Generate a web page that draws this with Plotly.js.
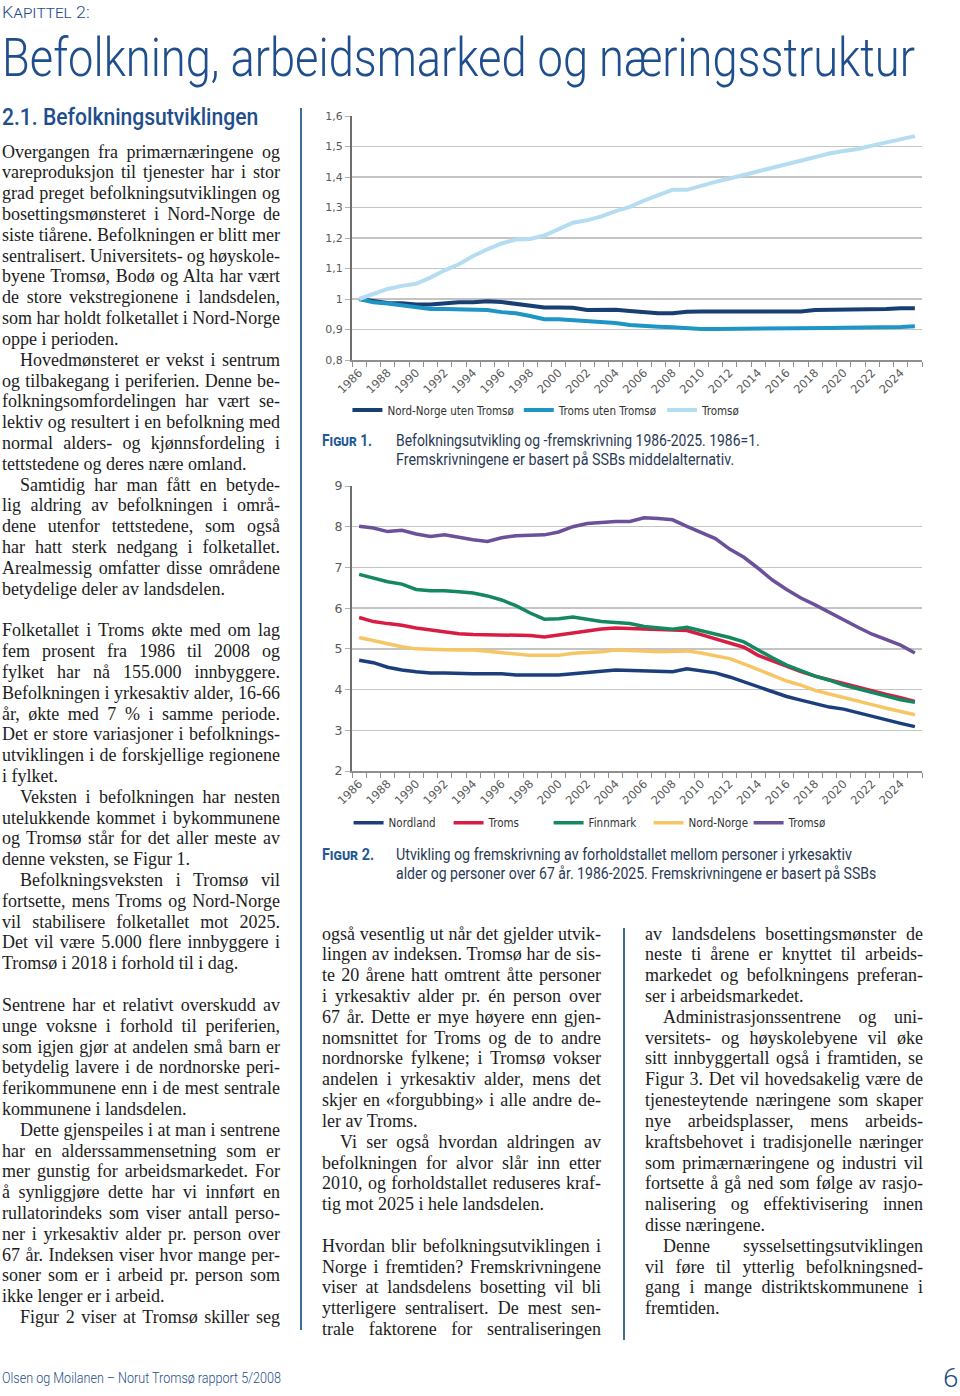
<!DOCTYPE html>
<html lang="no">
<head>
<meta charset="utf-8">
<script src="https://cdn.plot.ly/plotly-3.0.1.min.js"></script>
<style>
  html,body{margin:0;padding:0;background:#fff;}
  body{width:960px;height:1396px;position:relative;overflow:hidden;}
  .abs{position:absolute;white-space:nowrap;}
  .fit{display:inline-block;transform-origin:0 50%;}
  .blue{color:#1f4e8c;}
  .sans{font-family:"Roboto","Open Sans","DejaVu Sans",sans-serif;}
  .col{position:absolute;font-family:"Liberation Serif","DejaVu Serif",serif;font-size:18px;line-height:20.82px;color:#1c1c1c;}
  .ln{height:20.82px;white-space:nowrap;}
  .ln span{white-space:pre;}
  .rule{position:absolute;width:1.5px;background:#3f6f8f;}
  .cap{font-family:"Roboto","Open Sans",sans-serif;font-size:16px;color:#2a3a55;}
  .figlab{font-family:"Roboto","Open Sans",sans-serif;font-variant:small-caps;font-weight:700;font-size:16px;color:#1f5a96;}
</style>
</head>
<body>
<script>
// ---------------- DATA ----------------
const years = [1986,1987,1988,1989,1990,1991,1992,1993,1994,1995,1996,1997,1998,1999,2000,2001,2002,2003,2004,2005,
               2006,2007,2008,2009,2010,2011,2012,2013,2014,2015,2016,2017,2018,2019,2020,2021,2022,2023,2024,2025];
const tickYears  = [1986,1988,1990,1992,1994,1996,1998,2000,2002,2004,2006,2008,2010,2012,2014,2016,2018,2020,2022,2024];
const tickLabels = ['1986','1988','1990','1992','1994','1996','1998','2000','2002','2004','2006','2008','2010','2012','2014','2016','2018','2020','2022','2024'];

// Figur 1: index 1986 = 1
const fig1Names = ['Nord-Norge uten Tromsø','Troms uten Tromsø','Tromsø'];
const nordNorgeUtenTromso = [1.000,0.992,0.987,0.986,0.982,0.982,0.986,0.989,0.989,0.993,0.990,0.983,0.978,0.972,0.972,0.971,0.964,0.964,0.965,0.961,
                             0.957,0.953,0.953,0.958,0.959,0.959,0.959,0.959,0.959,0.959,0.959,0.959,0.964,0.964,0.964,0.966,0.966,0.967,0.970,0.970];
const tromsUtenTromso     = [1.000,0.989,0.985,0.980,0.975,0.967,0.967,0.967,0.964,0.964,0.957,0.953,0.944,0.934,0.934,0.931,0.927,0.926,0.921,0.915,
                             0.911,0.909,0.907,0.903,0.902,0.902,0.902,0.902,0.902,0.902,0.902,0.902,0.904,0.905,0.906,0.906,0.906,0.907,0.908,0.911];
const tromso1             = [1.000,1.016,1.033,1.043,1.050,1.070,1.094,1.114,1.141,1.163,1.182,1.195,1.197,1.208,1.230,1.250,1.258,1.271,1.288,1.302,
                             1.323,1.342,1.358,1.358,1.372,1.384,1.395,1.407,1.419,1.430,1.441,1.455,1.466,1.477,1.485,1.492,1.503,1.514,1.523,1.534];

// Figur 2: personer i yrkesaktiv alder pr. person over 67 år
const fig2Names = ['Nordland','Troms','Finnmark','Nord-Norge','Tromsø'];
const nordland  = [4.72,4.66,4.55,4.48,4.44,4.41,4.41,4.39,4.39,4.39,4.39,4.36,4.36,4.36,4.36,4.39,4.41,4.45,4.48,4.47,
                   4.44,4.44,4.44,4.51,4.46,4.41,4.31,4.19,4.07,3.95,3.83,3.74,3.65,3.57,3.52,3.43,3.33,3.25,3.17,3.09];
const troms     = [5.77,5.67,5.62,5.58,5.51,5.46,5.43,5.37,5.35,5.35,5.35,5.35,5.33,5.29,5.34,5.41,5.46,5.49,5.51,5.50,
                   5.47,5.47,5.46,5.45,5.35,5.24,5.15,5.04,4.84,4.70,4.56,4.44,4.33,4.24,4.13,4.04,3.95,3.88,3.80,3.71];
const finnmark  = [6.83,6.73,6.65,6.59,6.46,6.43,6.43,6.40,6.37,6.30,6.20,6.06,5.88,5.73,5.74,5.78,5.72,5.67,5.65,5.62,
                   5.55,5.51,5.48,5.53,5.45,5.37,5.28,5.17,4.97,4.78,4.60,4.46,4.33,4.23,4.11,4.02,3.92,3.84,3.75,3.69];
const nordNorge = [5.28,5.20,5.11,5.05,5.00,4.98,4.98,4.97,4.97,4.94,4.90,4.87,4.84,4.84,4.84,4.89,4.90,4.93,4.97,4.97,
                   4.95,4.93,4.93,4.95,4.90,4.84,4.76,4.63,4.49,4.37,4.21,4.11,3.98,3.89,3.81,3.72,3.63,3.54,3.45,3.38];
const tromso2   = [8.01,7.97,7.88,7.91,7.82,7.76,7.80,7.73,7.68,7.64,7.73,7.78,7.80,7.80,7.87,8.00,8.08,8.11,8.13,8.13,
                   8.22,8.20,8.17,8.01,7.86,7.71,7.45,7.25,6.98,6.69,6.46,6.25,6.08,5.89,5.71,5.53,5.36,5.22,5.09,4.90];

// Text (~ = indent, $ = last line of paragraph, '' = blank line)
const leftLines = [
 'Overgangen fra primærnæringene og','vareproduksjon til tjenester har i stor','grad preget befolkningsutviklingen og',
 'bosettingsmønsteret i Nord-Norge de','siste tiårene. Befolkningen er blitt mer','sentralisert. Universitets- og høyskole-',
 'byene Tromsø, Bodø og Alta har vært','de store vekstregionene i landsdelen,','som har holdt folketallet i Nord-Norge','oppe i perioden.$',
 '~Hovedmønsteret er vekst i sentrum','og tilbakegang i periferien. Denne be-','folkningsomfordelingen har vært se-',
 'lektiv og resultert i en befolkning med','normal alders- og kjønnsfordeling i','tettstedene og deres nære omland.$',
 '~Samtidig har man fått en betyde-','lig aldring av befolkningen i områ-','dene utenfor tettstedene, som også',
 'har hatt sterk nedgang i folketallet.','Arealmessig omfatter disse områdene','betydelige deler av landsdelen.$',
 '',
 'Folketallet i Troms økte med om lag','fem prosent fra 1986 til 2008 og','fylket har nå 155.000 innbyggere.',
 'Befolkningen i yrkesaktiv alder, 16-66','år, økte med 7 % i samme periode.','Det er store variasjoner i befolknings-',
 'utviklingen i de forskjellige regionene','i fylket.$',
 '~Veksten i befolkningen har nesten','utelukkende kommet i bykommunene','og Tromsø står for det aller meste av','denne veksten, se Figur 1.$',
 '~Befolkningsveksten i Tromsø vil','fortsette, mens Troms og Nord-Norge','vil stabilisere folketallet mot 2025.',
 'Det vil være 5.000 flere innbyggere i','Tromsø i 2018 i forhold til i dag.$',
 '',
 'Sentrene har et relativt overskudd av','unge voksne i forhold til periferien,','som igjen gjør at andelen små barn er',
 'betydelig lavere i de nordnorske peri-','ferikommunene enn i de mest sentrale','kommunene i landsdelen.$',
 '~Dette gjenspeiles i at man i sentrene','har en alderssammensetning som er','mer gunstig for arbeidsmarkedet. For',
 'å synliggjøre dette har vi innført en','rullatorindeks som viser antall perso-','ner i yrkesaktiv alder pr. person over',
 '67 år. Indeksen viser hvor mange per-','soner som er i arbeid pr. person som','ikke lenger er i arbeid.$',
 '~Figur 2 viser at Tromsø skiller seg'
];
const midLines = [
 'også vesentlig ut når det gjelder utvik-','lingen av indeksen. Tromsø har de sis-','te 20 årene hatt omtrent åtte personer',
 'i yrkesaktiv alder pr. én person over','67 år. Dette er mye høyere enn gjen-','nomsnittet for Troms og de to andre',
 'nordnorske fylkene; i Tromsø vokser','andelen i yrkesaktiv alder, mens det','skjer en «forgubbing» i alle andre de-','ler av Troms.$',
 '~Vi ser også hvordan aldringen av','befolkningen for alvor slår inn etter','2010, og forholdstallet reduseres kraf-','tig mot 2025 i hele landsdelen.$',
 '',
 'Hvordan blir befolkningsutviklingen i','Norge i fremtiden? Fremskrivningene','viser at landsdelens bosetting vil bli',
 'ytterligere sentralisert. De mest sen-','trale faktorene for sentraliseringen'
];
const rightLines = [
 'av landsdelens bosettingsmønster de','neste ti årene er knyttet til arbeids-','markedet og befolkningens preferan-','ser i arbeidsmarkedet.$',
 '~Administrasjonssentrene og uni-','versitets- og høyskolebyene vil øke','sitt innbyggertall også i framtiden, se',
 'Figur 3. Det vil hovedsakelig være de','tjenesteytende næringene som skaper','nye arbeidsplasser, mens arbeids-',
 'kraftsbehovet i tradisjonelle næringer','som primærnæringene og industri vil','fortsette å gå ned som følge av rasjo-',
 'nalisering og effektivisering innen','disse næringene.$',
 '~Denne sysselsettingsutviklingen','vil føre til ytterlig befolkningsned-','gang i mange distriktskommunene i','fremtiden.$'
];
</script>

<!-- page furniture -->
<div class="abs blue sans" style="left:2px;top:2px;font-size:17px;font-variant:small-caps;font-weight:300;line-height:20px;"><span class="fit" data-w="88">Kapittel 2:</span></div>
<div class="abs blue sans" style="left:2px;top:28px;font-size:54px;font-weight:300;line-height:60px;"><span class="fit" data-w="913">Befolkning, arbeidsmarked og næringsstruktur</span></div>
<div class="abs blue sans" style="left:2px;top:104px;font-size:23px;font-weight:500;line-height:28px;"><span class="fit" data-w="256">2.1. Befolkningsutviklingen</span></div>

<div class="rule" style="left:300px;top:108px;height:1222px;"></div>
<div class="rule" style="left:623px;top:928px;height:412px;"></div>

<div id="fig1" style="position:absolute;left:300px;top:100px;width:640px;height:345px;"></div>
<div id="fig2" style="position:absolute;left:300px;top:470px;width:640px;height:385px;"></div>

<div class="abs figlab" style="left:322px;top:431px;line-height:20px;"><span class="fit" data-w="50">Figur 1.</span></div>
<div class="abs cap" style="left:396px;top:431px;line-height:20px;"><span class="fit" data-w="364">Befolkningsutvikling og -fremskrivning 1986-2025. 1986=1.</span></div>
<div class="abs cap" style="left:396px;top:450px;line-height:20px;"><span class="fit" data-w="338">Fremskrivningene er basert på SSBs middelalternativ.</span></div>

<div class="abs figlab" style="left:322px;top:845px;line-height:20px;"><span class="fit" data-w="52">Figur 2.</span></div>
<div class="abs cap" style="left:396px;top:845px;line-height:20px;"><span class="fit" data-w="456">Utvikling og fremskrivning av forholdstallet mellom personer i yrkesaktiv</span></div>
<div class="abs cap" style="left:396px;top:864px;line-height:20px;"><span class="fit" data-w="480">alder og personer over 67 år. 1986-2025. Fremskrivningene er basert på SSBs</span></div>

<div id="colL" class="col" style="left:2px;top:141.6px;width:278px;"></div>
<div id="colM" class="col" style="left:322px;top:923.6px;width:279px;"></div>
<div id="colR" class="col" style="left:645px;top:923.6px;width:278px;"></div>

<div class="abs blue sans" style="left:2px;top:1369px;font-size:14px;font-weight:300;line-height:18px;"><span class="fit" data-w="279">Olsen og Moilanen – Norut Tromsø rapport 5/2008</span></div>
<div class="abs blue sans" style="left:943px;top:1364px;font-size:26px;font-weight:300;line-height:28px;"><span class="fit" data-w="15">6</span></div>

<script>
// ---------------- TEXT LAYOUT ----------------
const IND = 18;
function layoutCol(id, lines, W){
  const el = document.getElementById(id);
  el.innerHTML = '';
  lines.forEach(raw=>{
    const d = document.createElement('div'); d.className='ln';
    if(raw===''){ el.appendChild(d); return; }
    const indent = raw.startsWith('~'), last = raw.endsWith('$');
    const t = raw.replace(/^~/,'').replace(/\$$/,'');
    const s = document.createElement('span'); s.textContent = t;
    if(indent) d.style.paddingLeft = IND+'px';
    d.appendChild(s); el.appendChild(d);
    const avail = W - (indent?IND:0);
    const w = s.getBoundingClientRect().width;
    const n = (t.match(/ /g)||[]).length;
    if(!last && n>0){ s.style.wordSpacing = ((avail - w)/n)+'px'; }
    else if(w>avail){ s.style.display='inline-block'; s.style.transformOrigin='0 50%'; s.style.transform='scaleX('+(avail/w)+')'; }
  });
}
function fitAll(){
  document.querySelectorAll('.fit').forEach(s=>{
    s.style.transform='none';
    const w = s.offsetWidth, target = +s.dataset.w;
    if(w>0) s.style.transform='scaleX('+(target/w)+')';
  });
  layoutCol('colL', leftLines, 278);
  layoutCol('colM', midLines, 279);
  layoutCol('colR', rightLines, 278);
}
fitAll();
if(document.fonts && document.fonts.ready) document.fonts.ready.then(fitAll);

// ---------------- CHARTS ----------------
const tickFont = {family:'DejaVu Sans, Verdana, sans-serif', size:11.5, color:'#595959'};
const legFont  = {family:'Liberation Sans Narrow, DejaVu Sans Condensed, Roboto, sans-serif', size:11.5, color:'#333'};
function xAxis(){
  return {
    range:[1985.5,2025.5], tickmode:'array', tickvals:tickYears, ticktext:tickLabels, tickangle:-45,
    ticks:'', showgrid:false, zeroline:false, showline:true, linecolor:'#8f8f8f', linewidth:1.5,
    minor:{tickmode:'linear', tick0:1985.5, dtick:1, ticks:'outside', ticklen:5, tickwidth:1, tickcolor:'#8f8f8f', showgrid:false},
    tickfont:tickFont, fixedrange:true
  };
}
function yAxis(range, dtick, fontSize){
  return {
    range:range, tickmode:'linear', tick0:range[0], dtick:dtick, showgrid:true, gridcolor:'#c4c4c4', gridwidth:1.5,
    zeroline:false, showline:true, linecolor:'#6e6e6e', linewidth:2, ticks:'outside', ticklen:5, tickcolor:'#b0b0b0',
    tickfont:Object.assign({}, tickFont, {size:fontSize}), fixedrange:true
  };
}
function lineTrace(name, y, color, width){
  return {type:'scatter', mode:'lines', name:name, x:years, y:y, line:{color:color, width:width}, hoverinfo:'skip'};
}

const fig1Colors = ['#173f74','#1f95c6','#b5ddf2'];
const fig1Data = [
  lineTrace(fig1Names[0], nordNorgeUtenTromso, fig1Colors[0], 4),
  lineTrace(fig1Names[1], tromsUtenTromso,     fig1Colors[1], 4),
  lineTrace(fig1Names[2], tromso1,             fig1Colors[2], 4)
];
Plotly.newPlot('fig1', fig1Data, {
  width:640, height:345, margin:{l:52, r:18, t:16, b:85},
  paper_bgcolor:'rgba(0,0,0,0)', plot_bgcolor:'rgba(0,0,0,0)',
  separators:', ', showlegend:true,
  legend:{orientation:'h', x:-0.008, xanchor:'left', y:-0.205, yanchor:'middle', font:legFont, bgcolor:'rgba(0,0,0,0)', itemwidth:30},
  xaxis:xAxis(), yaxis:yAxis([0.8,1.6],0.1,11)
}, {staticPlot:true, displayModeBar:false});

const fig2Colors = ['#1c3f7c','#d81c43','#14895f','#f6c564','#6a5199'];
const fig2Series = [nordland, troms, finnmark, nordNorge, tromso2];
const fig2Data = fig2Series.map((s,i)=>lineTrace(fig2Names[i], s, fig2Colors[i], 3.5));
Plotly.newPlot('fig2', fig2Data, {
  width:640, height:385, margin:{l:52, r:18, t:16, b:84},
  paper_bgcolor:'rgba(0,0,0,0)', plot_bgcolor:'rgba(0,0,0,0)',
  separators:', ', showlegend:true,
  legend:{orientation:'h', x:-0.006, xanchor:'left', y:-0.182, yanchor:'middle', font:legFont, bgcolor:'rgba(0,0,0,0)', itemwidth:30,
          entrywidth:55, entrywidthmode:'pixels'},
  xaxis:xAxis(), yaxis:yAxis([2,9],1,12.5)
}, {staticPlot:true, displayModeBar:false});
</script>
</body>
</html>
